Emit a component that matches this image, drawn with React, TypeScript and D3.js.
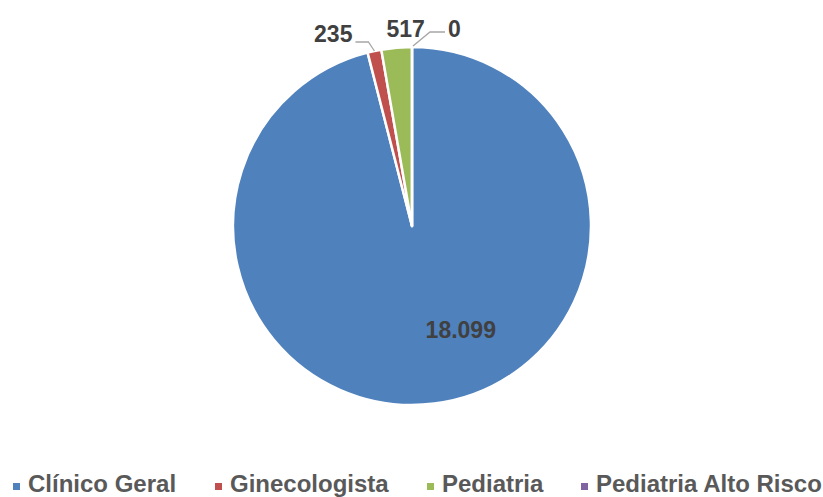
import React from "react";
import * as d3 from "d3";

const categories = ["Clínico Geral", "Ginecologista", "Pediatria", "Pediatria Alto Risco"];
const values = [18099, 235, 517, 0];
const valueLabels = ["18.099", "235", "517", "0"];
const colors = ["#4F81BD", "#C0504D", "#9BBB59", "#8064A2"];
const legendX = [13, 215, 427, 581];

const W = 823;
const H = 497;
const cx = 412;
const cy = 226;
const r = 179;

const App = () => {
  const pie = d3.pie<number>().sort(null).value(d => d);
  const arcs = pie(values);
  const arc = d3.arc<d3.PieArcDatum<number>>().innerRadius(0).outerRadius(r);

  const mid = (a: d3.PieArcDatum<number>) => (a.startAngle + a.endAngle) / 2;
  const font = "'Liberation Sans', Arial, sans-serif";

  // label geometry per slice
  const labels = arcs.map((a, i) => {
    const m = mid(a);
    const [ox, oy] = d3.pointRadial(m, r);
    if (i === 0) {
      const [lx, ly] = d3.pointRadial(Math.PI * 0.86, r * 0.64);
      return { x: lx, y: ly + 8, anchor: "middle", line: null };
    }
    if (i === 1) {
      const elbow: [number, number] = [ox - 6, oy - 9];
      const end: [number, number] = [ox - 19, oy - 9];
      return { x: end[0] - 3, y: oy - 9, anchor: "end", line: [[ox, oy], elbow, end] };
    }
    if (i === 2) {
      return { x: ox + 9, y: oy - 11, anchor: "middle", line: null };
    }
    const elbow: [number, number] = [ox + 18, oy - 15];
    const end: [number, number] = [ox + 33, oy - 15];
    return { x: end[0] + 3, y: oy - 10, anchor: "start", line: [[ox + 1, oy - 1], elbow, end] };
  });

  const line = d3.line();

  return (
    <svg width={W} height={H} style={{ position: "absolute", left: 0, top: 0 }}>
      <rect width={W} height={H} fill="#fff" />
      <g transform={`translate(${cx},${cy})`}>
        {arcs.map((a, i) => (
          <path key={i} d={arc(a) || ""} fill={colors[i]} stroke="#fff" strokeWidth={2.5} strokeLinejoin="round" />
        ))}
        {labels.map((l, i) =>
          l.line ? (
            <path key={"l" + i} d={line(l.line as [number, number][]) || ""} fill="none" stroke="#A6A6A6" strokeWidth={1.3} />
          ) : null
        )}
        {labels.map((l, i) => (
          <text
            key={"t" + i}
            x={l.x}
            y={l.y}
            textAnchor={l.anchor as any}
            fontFamily={font}
            fontWeight="bold"
            fontSize={23}
            fill="#404040"
          >
            {valueLabels[i]}
          </text>
        ))}
      </g>
      <g>
        {categories.map((c, i) => (
          <g key={c} transform={`translate(${legendX[i]},0)`}>
            <rect x={0} y={483} width={7} height={7} fill={colors[i]} />
            <text x={15} y={492} fontFamily={font} fontWeight="bold" fontSize={24} fill="#595959">
              {c}
            </text>
          </g>
        ))}
      </g>
    </svg>
  );
};

export default App;
